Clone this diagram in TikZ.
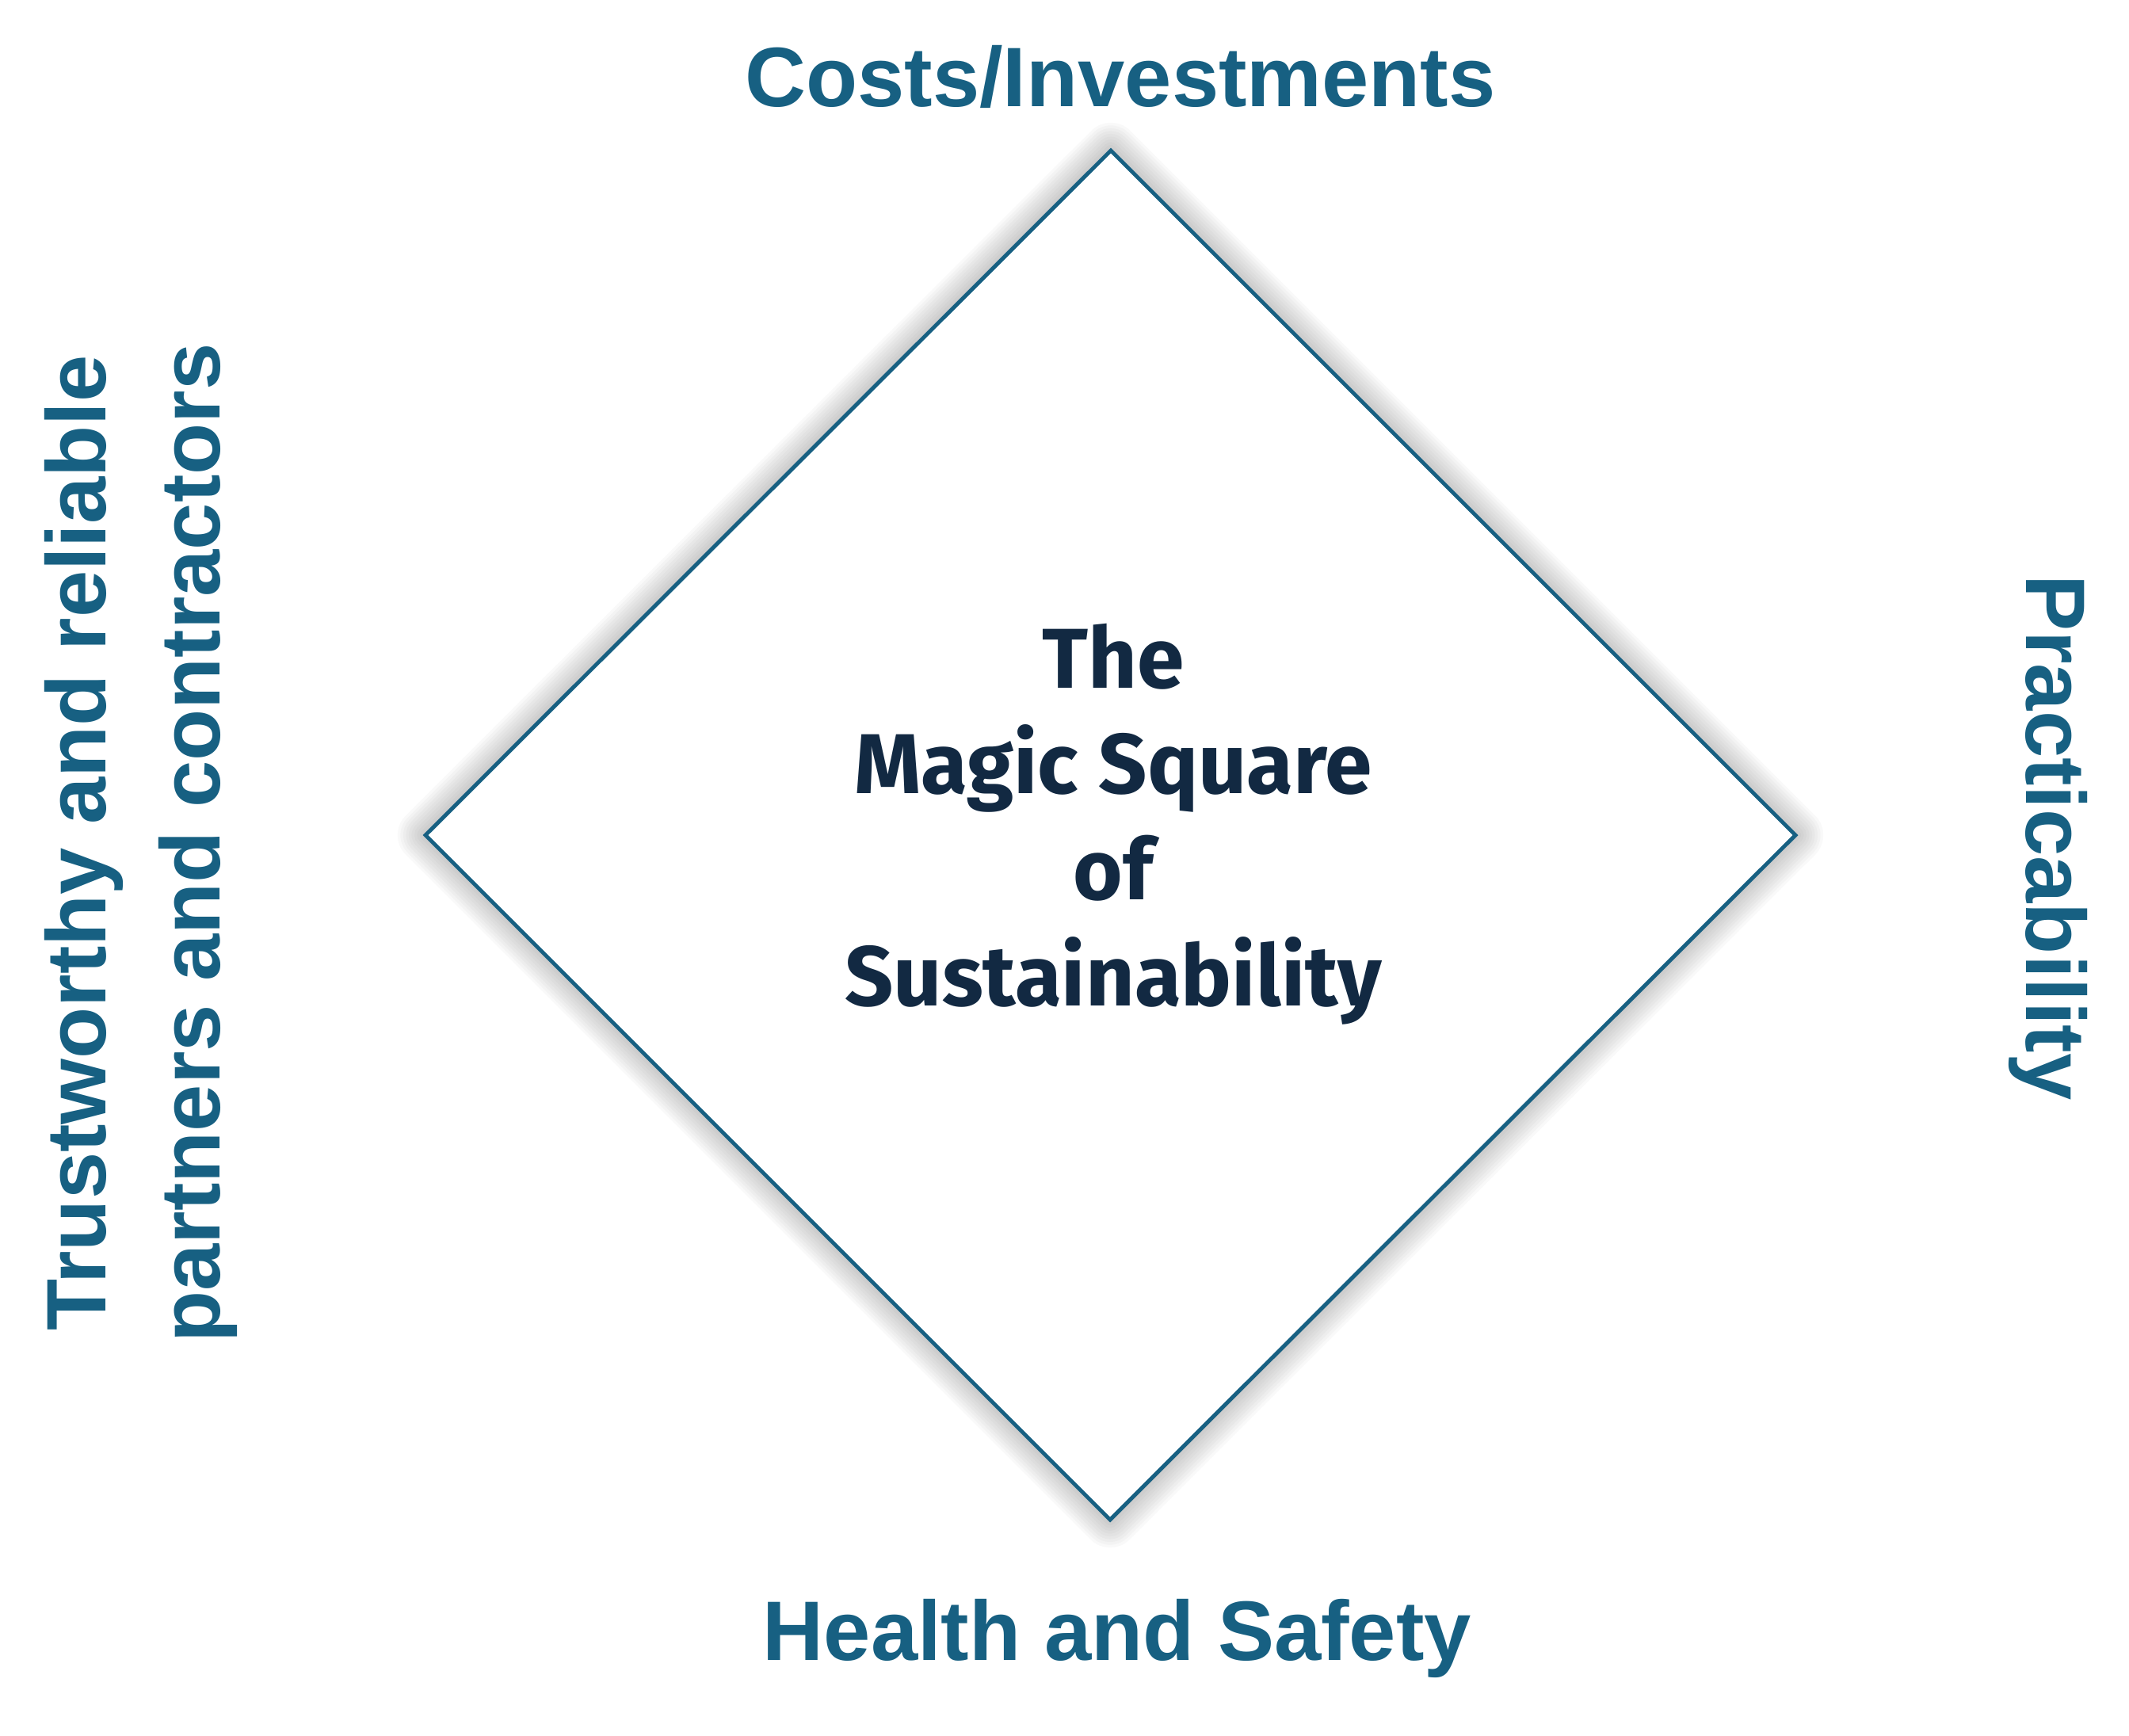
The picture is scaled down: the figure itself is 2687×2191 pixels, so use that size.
\documentclass[tikz,border=0pt]{standalone}
\usepackage{fontspec}
\setmainfont{Liberation Sans}
\newfontfamily\centerfont{Fira Sans}
\definecolor{labelblue}{RGB}{23,96,130}
\definecolor{navy}{RGB}{18,41,66}
\tikzset{
  corner/.style={font=\fontsize{30.3}{41}\selectfont\bfseries, text=labelblue, inner sep=0pt},
  glow/.style={black, line join=round, opacity=0.022}
}
\begin{document}
\begin{tikzpicture}[x=0.01cm,y=-0.01cm]
\useasboundingbox (0,0) rectangle (2687,2191);
\coordinate (top) at (1402,190);
\coordinate (right) at (2266,1054);
\coordinate (bottom) at (1401,1918);
\coordinate (left) at (537,1054);
% soft shadow round the square
\foreach \w in {2,4,...,20}
  \draw[glow, line width=\w pt] (top) -- (right) -- (bottom) -- (left) -- cycle;
\filldraw[fill=white, draw=labelblue, line width=1.4pt, line join=miter] (top) -- (right) -- (bottom) -- (left) -- cycle;
\node[inner sep=0pt, align=center, text=navy, font=\centerfont\fontsize{30.5}{38}\selectfont\bfseries] (msq) at (1405,1040) {The\\Magic Square\\of\\Sustainability};
\node[corner, anchor=base] (costs) at (1414,135) {Costs/Investments};
\node[corner, anchor=base] (health) at (1410,2095) {Health and Safety};
\node[corner, rotate=-90] (pract) at (2585,1057) {Practicability};
\node[corner, rotate=90, align=center] (partners) at (178,1064) {Trustworthy and reliable\\partners and contractors};
\end{tikzpicture}
\end{document}
